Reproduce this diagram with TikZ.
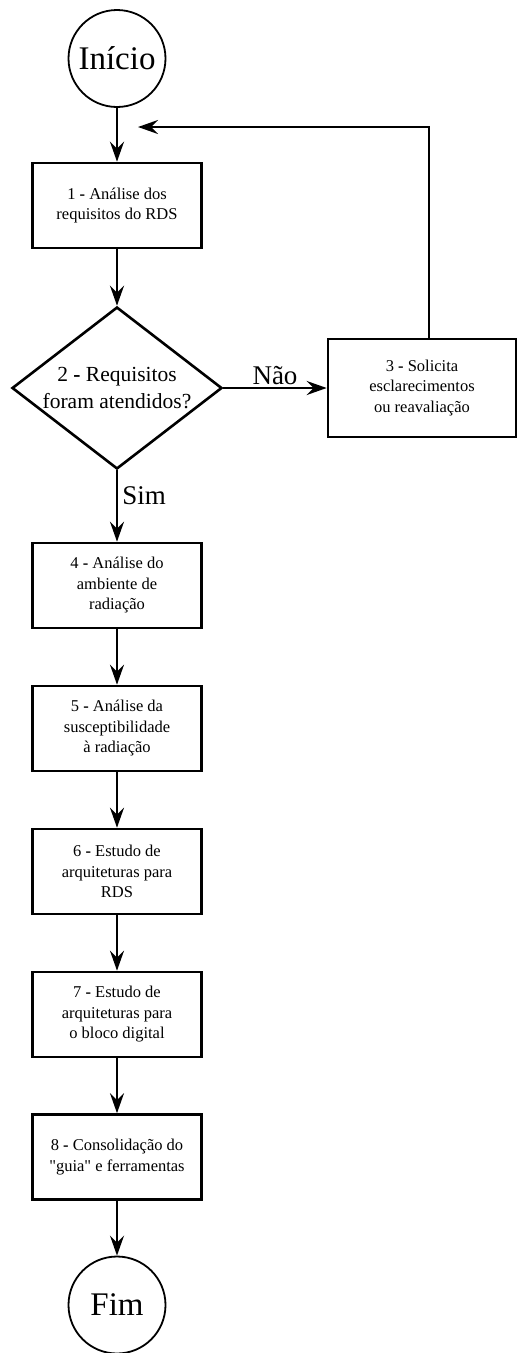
\documentclass[tikz,border=0pt]{standalone}
\usepackage{fontspec}
\setmainfont{Liberation Serif}[Ligatures=TeXOff]
\usetikzlibrary{shapes.geometric,arrows.meta}
\begin{document}
\begin{tikzpicture}[x=1pt,y=-1pt,
  stepbox/.style={draw, rectangle, line width=2.6pt, minimum width=169pt,
    minimum height=85pt, inner sep=0pt, align=center,
    font=\fontsize{16.5}{20.5}\selectfont},
  term/.style={draw, circle, line width=1.8pt, minimum size=97pt,
    inner sep=0pt, font=\fontsize{33}{36}\selectfont},
  decision/.style={draw, diamond, line width=2.6pt, minimum width=210pt,
    minimum height=162pt, inner sep=0pt},
  decisiontext/.style={align=center, inner sep=0pt,
    font=\fontsize{21.5}{27}\selectfont},
  flow/.style={line width=2.5pt, -{Stealth[length=20pt,width=14pt,inset=7pt]}},
  lbl/.style={font=\fontsize{27}{30}\selectfont}
]
\useasboundingbox (0,0) rectangle (518,1353);

% terminals
\node[term] (ini) at (117,58.5) {Início};
\node[term] (fim) at (117,1305) {Fim};

% process steps
\node[stepbox] (s1) at (117,205.5) {1 \textbf{-} Análise dos\\requisitos do RDS};
\node[decision] (q) at (117,388) {};
\node[decisiontext] (qt) at (q.center) {2 \textbf{-} Requisitos\\foram atendidos?};
\node[stepbox, minimum width=188pt, minimum height=98pt] (s3) at (422,388)
  {3 \textbf{-} Solicita\\esclarecimentos\\ou reavaliação};
\node[stepbox] (s4) at (117,585.5) {4 \textbf{-} Análise do\\ambiente de\\radiação};
\node[stepbox] (s5) at (117,728.5) {5 \textbf{-} Análise da\\susceptibilidade\\à radiação};
\node[stepbox] (s6) at (117,871.5) {6 \textbf{-} Estudo de\\arquiteturas para\\RDS};
\node[stepbox] (s7) at (117,1014.5) {7 \textbf{-} Estudo de\\arquiteturas para\\o bloco digital};
\node[stepbox] (s8) at (117,1157) {8 \textbf{-} Consolidação do\\"guia" e ferramentas};

% connectors
\coordinate (back) at (138,127);
\draw[flow] (ini) -- (s1);
\draw[flow] (s1) -- (q);
\draw[flow] (q.east) -- node[lbl, above, inner sep=2pt] {Não} (s3.west);
\draw[flow] (q.south) -- node[lbl, right, pos=0.35, inner sep=4pt] {Sim} (s4.north);
\draw[flow] ([xshift=7pt]s3.north) |- (back);
\draw[flow] (s4) -- (s5);
\draw[flow] (s5) -- (s6);
\draw[flow] (s6) -- (s7);
\draw[flow] (s7) -- (s8);
\draw[flow] (s8) -- (fim);
\end{tikzpicture}
\end{document}
